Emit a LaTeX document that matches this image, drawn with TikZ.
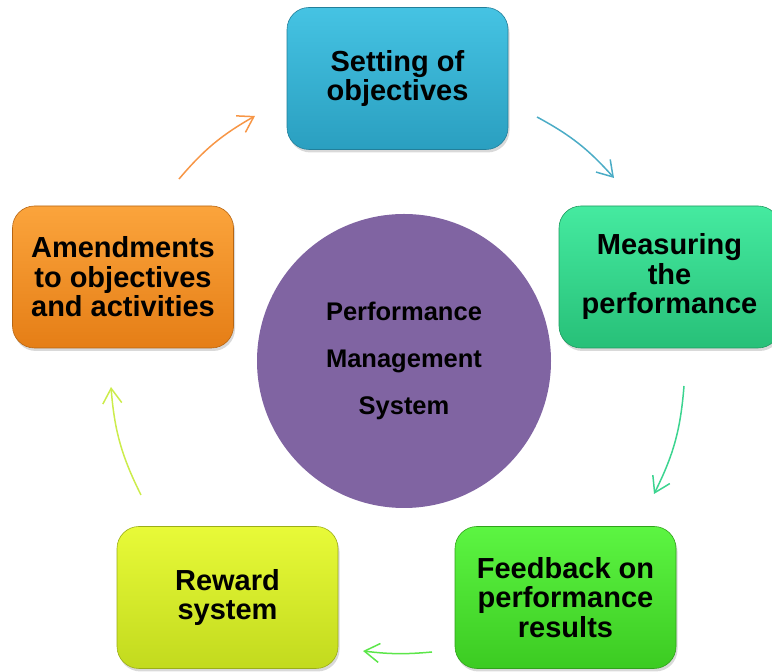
\documentclass[tikz,border=0pt]{standalone}
\usepackage{fontspec}
\setmainfont{Liberation Sans}
\usetikzlibrary{arrows.meta,shadows}
\definecolor{cyanT}{HTML}{45C3E3}
\definecolor{cyanB}{HTML}{2A9FC0}
\definecolor{tealT}{HTML}{45EAA0}
\definecolor{tealB}{HTML}{27C078}
\definecolor{oranT}{HTML}{FBA43C}
\definecolor{oranB}{HTML}{E57E16}
\definecolor{yelT}{HTML}{E8FA38}
\definecolor{yelB}{HTML}{C2DA1E}
\definecolor{grnT}{HTML}{5CF542}
\definecolor{grnB}{HTML}{3CCB22}
\definecolor{purp}{HTML}{8064A2}
\definecolor{acyan}{HTML}{4BACC6}
\definecolor{ateal}{HTML}{3CD490}
\definecolor{agrn}{HTML}{5CE64A}
\definecolor{ayel}{HTML}{CCEC4C}
\definecolor{aoran}{HTML}{F79646}
\begin{document}
\begin{tikzpicture}[x=1pt,y=1pt,
  box/.style={rounded corners=22pt, minimum width=221pt, minimum height=142pt,
    align=center, inner sep=0pt, line width=0.6pt,
    font=\fontsize{29}{29.5}\selectfont\bfseries,
    drop shadow={opacity=0.3,shadow xshift=1.5pt,shadow yshift=-3pt}},
  cyc/.style={line width=1.5pt, -{Straight Barb[length=15pt,width=19pt,line width=1.5pt]}}]
\useasboundingbox (0,0) rectangle (772,672);
\node[box, draw=cyanB!80!black, top color=cyanT, bottom color=cyanB] (set) at (397.5,593.5) {Setting of\\objectives};
\node[box, draw=tealB!80!black, top color=tealT, bottom color=tealB] (meas) at (669.5,395) {Measuring\\the\\performance};
\node[box, draw=grnB!80!black, top color=grnT, bottom color=grnB] (feed) at (565.5,74.5) {Feedback on\\performance\\results};
\node[box, draw=yelB!80!black, top color=yelT, bottom color=yelB] (rew) at (227.5,74.5) {Reward\\system};
\node[box, draw=oranB!80!black, top color=oranT, bottom color=oranB] (amd) at (123,395) {Amendments\\to objectives\\and activities};
\node[circle, fill=purp, minimum size=294pt, inner sep=0pt, align=center,
  font=\fontsize{25.5}{47}\selectfont\bfseries] (pms) at (404,311) {Performance\\Management\\System};
\coordinate (a1s) at (537,555); \coordinate (a1e) at (614,494);
\coordinate (a2s) at (684,286); \coordinate (a2e) at (654,178);
\coordinate (a3s) at (432,20);  \coordinate (a3e) at (363,21);
\coordinate (a4s) at (141,177); \coordinate (a4e) at (111,285);
\coordinate (a5s) at (179,493); \coordinate (a5e) at (255,556);
\draw[cyc, acyan] (a1s) to[bend left=10] (a1e);
\draw[cyc, ateal] (a2s) to[bend left=11] (a2e);
\draw[cyc, agrn] (a3s) to[bend left=6] (a3e);
\draw[cyc, ayel] (a4s) to[bend left=11] (a4e);
\draw[cyc, aoran] (a5s) to[bend left=10] (a5e);
\end{tikzpicture}
\end{document}
